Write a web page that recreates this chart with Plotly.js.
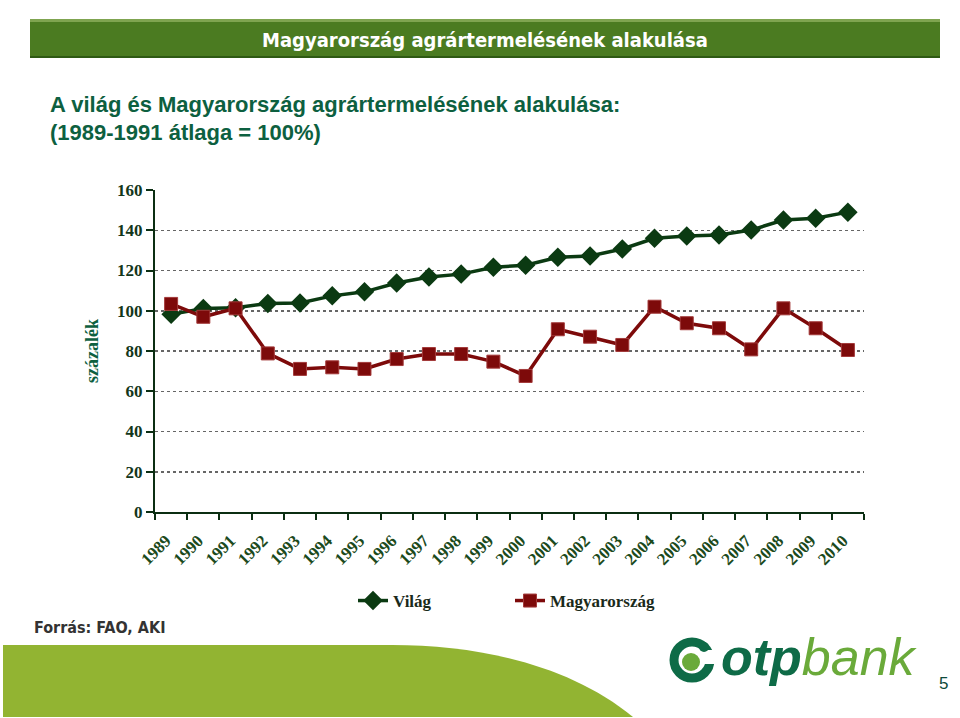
<!DOCTYPE html>
<html>
<head>
<meta charset="utf-8">
<script src="https://cdn.plot.ly/plotly-3.0.1.min.js"></script>
<style>
  html, body { margin: 0; padding: 0; background: #ffffff; }
  #chart { width: 960px; height: 718px; }
</style>
</head>
<body>
<div id="chart"></div>
<script>
// ---- Data ----
const years = ['1989','1990','1991','1992','1993','1994','1995','1996','1997','1998','1999',
               '2000','2001','2002','2003','2004','2005','2006','2007','2008','2009','2010'];
const vilag = [98.2, 101.1, 101.5, 103.6, 103.9, 107.4, 109.4, 113.8, 116.8, 118.2, 121.6,
               122.6, 126.6, 127.2, 130.7, 136.0, 137.1, 137.6, 140.1, 145.1, 146.0, 149.0];
const magyarorszag = [103.4, 97.0, 101.2, 78.8, 71.1, 71.9, 71.1, 76.0, 78.5, 78.5, 74.7,
                      67.6, 90.8, 87.1, 83.0, 102.0, 93.8, 91.3, 80.8, 101.2, 91.3, 80.5];
const yTicks = [0, 20, 40, 60, 80, 100, 120, 140, 160];

// ---- Layout helpers (pixel -> paper) ----
const L = 155, R = 864, T = 190, B = 512;
const fx = px => (px - L) / (R - L);
const fy = py => (B - py) / (B - T);

const serif = 'Liberation Serif, Times New Roman, serif';
const sans = 'Liberation Sans, Arial, sans-serif';
const narrow = 'DejaVu Sans Condensed, Liberation Sans Narrow, Arial Narrow, Liberation Sans, sans-serif';

const traces = [
  {
    x: years, y: vilag, name: 'Világ', type: 'scatter', mode: 'lines+markers',
    line: { color: '#0b3a12', width: 3.5 },
    marker: { symbol: 'diamond', size: 15, color: '#0b3a12' }
  },
  {
    x: years, y: magyarorszag, name: 'Magyarország', type: 'scatter', mode: 'lines+markers',
    line: { color: '#7d0a0a', width: 3.5 },
    marker: { symbol: 'square', size: 13, color: '#7d0a0a', line: { color: '#a33a3a', width: 1 } }
  }
];

function rectPx(x0, y0, x1, y1, color, line) {
  return { type: 'rect', xref: 'paper', yref: 'paper', layer: 'below',
           x0: fx(x0), x1: fx(x1), y0: fy(y1), y1: fy(y0),
           fillcolor: color, line: line || { width: 0 } };
}
function pathPx(pts, color) {
  let s = '';
  pts.forEach(p => {
    s += p[0] + ' ';
    for (let i = 1; i < p.length; i += 2) s += fx(p[i]).toFixed(5) + ',' + fy(p[i + 1]).toFixed(5) + ' ';
  });
  s += 'Z';
  return { type: 'path', xref: 'paper', yref: 'paper', layer: 'below', path: s,
           fillcolor: color, line: { width: 0 } };
}
function circlePx(cx, cy, r, fill, line) {
  return { type: 'circle', xref: 'paper', yref: 'paper', layer: 'above',
           x0: fx(cx - r), x1: fx(cx + r), y0: fy(cy + r), y1: fy(cy - r),
           fillcolor: fill, line: line || { width: 0 } };
}

const shapes = [
  // header bar
  rectPx(30, 19, 940, 58, '#2f5a14'),
  rectPx(30, 19, 940, 56, '#4b7b21'),
  rectPx(30, 19, 940, 22, '#7fa450'),
  // bottom swoosh
  pathPx([['M', 3, 645], ['L', 392, 645], ['C', 480, 645, 570, 665, 633, 717], ['L', 3, 717]], '#92b432'),
  // logo icon
  circlePx(692, 660, 18, 'rgba(0,0,0,0)', { color: '#0e6b47', width: 9 }),
  { type: 'rect', xref: 'paper', yref: 'paper', layer: 'above',
    x0: fx(701), x1: fx(716), y0: fy(664), y1: fy(650), fillcolor: '#ffffff', line: { width: 0 } },
  circlePx(691, 662, 9, '#6aaa3a'),
  circlePx(704, 647, 5, '#0e6b47')
];

const annotations = [
  { text: 'Magyarország agrártermelésének alakulása', xref: 'paper', yref: 'paper',
    x: fx(485), y: fy(40), xanchor: 'center', yanchor: 'middle', showarrow: false,
    font: { family: narrow, size: 20, color: '#ffffff', weight: 'bold' } },
  { text: 'A világ és Magyarország agrártermelésének alakulása:', xref: 'paper', yref: 'paper',
    x: fx(48), y: fy(104), xanchor: 'left', yanchor: 'middle', showarrow: false,
    font: { family: sans, size: 22, color: '#0d6040', weight: 'bold' } },
  { text: '(1989-1991 átlaga = 100%)', xref: 'paper', yref: 'paper',
    x: fx(48), y: fy(133), xanchor: 'left', yanchor: 'middle', showarrow: false,
    font: { family: sans, size: 22, color: '#0d6040', weight: 'bold' } },
  { text: 'Forrás: FAO, AKI', xref: 'paper', yref: 'paper',
    x: fx(32), y: fy(627), xanchor: 'left', yanchor: 'middle', showarrow: false,
    font: { family: narrow, size: 16, color: '#333333', weight: 'bold' } },
  { text: '<b><i><span style="color:#0e6b47">otp</span></i></b><i>bank</i>', xref: 'paper', yref: 'paper',
    x: fx(719), y: fy(657), xanchor: 'left', yanchor: 'middle', showarrow: false,
    font: { family: sans, size: 52, color: '#6aaa3a' } },
  { text: '5', xref: 'paper', yref: 'paper',
    x: fx(943), y: fy(683), xanchor: 'center', yanchor: 'middle', showarrow: false,
    font: { family: sans, size: 17, color: '#0d4a3a' } }
];

const layout = {
  width: 960, height: 718,
  margin: { l: L, r: 960 - R, t: T, b: 718 - B },
  paper_bgcolor: '#ffffff', plot_bgcolor: '#ffffff',
  showlegend: true,
  legend: { orientation: 'h', x: fx(353), y: fy(601), xanchor: 'left', yanchor: 'middle',
            entrywidth: 112, entrywidthmode: 'pixels', bgcolor: 'rgba(0,0,0,0)',
            font: { family: serif, size: 17, color: '#1a2a1a', weight: 'bold' } },
  xaxis: {
    type: 'category', range: [-0.5, 21.5], tickson: 'boundaries',
    showline: true, linecolor: '#0b2e12', linewidth: 2,
    ticks: 'outside', ticklen: 6, tickcolor: '#0b2e12', tickwidth: 2,
    showgrid: false, zeroline: false, tickangle: -45, ticklabelstandoff: 10, ticklabelshift: -5,
    tickfont: { family: serif, size: 17, color: '#1c4a1c', weight: 'bold' }
  },
  yaxis: {
    range: [0, 160], tickvals: yTicks, ticktext: yTicks.map(String),
    showline: true, linecolor: '#0b2e12', linewidth: 2,
    ticks: 'outside', ticklen: 7, tickcolor: '#0b2e12', tickwidth: 2,
    showgrid: true, gridcolor: '#666666', gridwidth: 1.5, griddash: 'dot',
    zeroline: false,
    tickfont: { family: serif, size: 17, color: '#13361a', weight: 'bold' },
    title: { text: 'százalék', standoff: 14,
             font: { family: serif, size: 18, color: '#0d6040', weight: 'bold' } }
  },
  shapes: shapes,
  annotations: annotations
};

Plotly.newPlot('chart', traces, layout, { displayModeBar: false, staticPlot: true });
</script>
</body>
</html>
